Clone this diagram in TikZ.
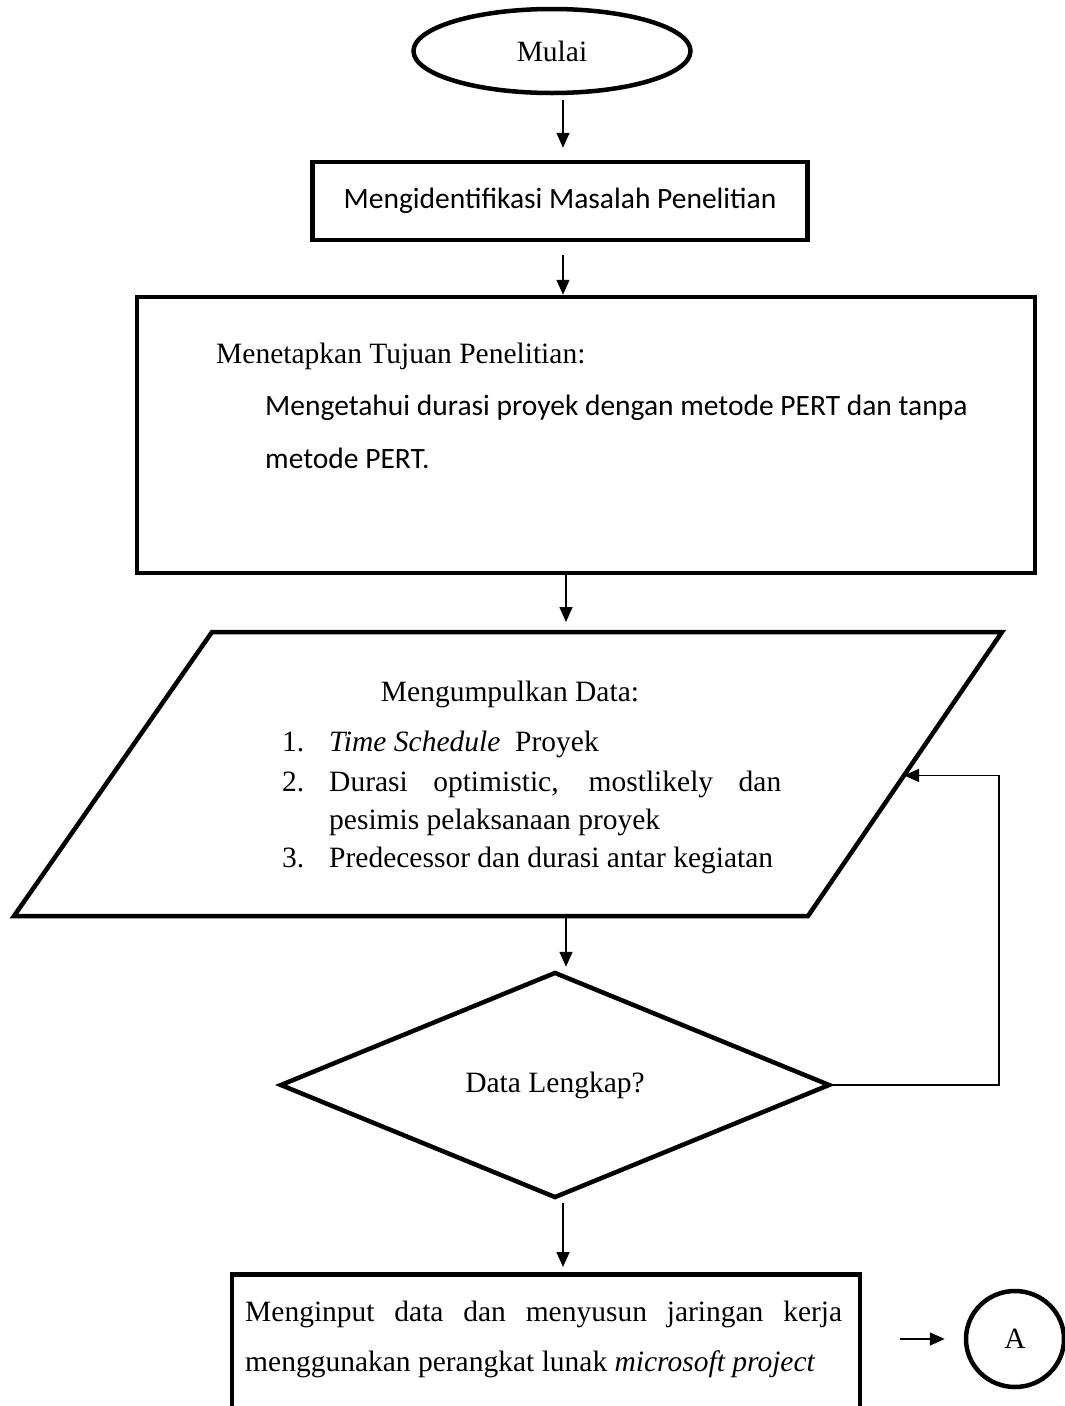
\documentclass[tikz,border=0pt]{standalone}
\usepackage{fontspec}
\setmainfont{Liberation Serif}
\newfontfamily\calibri{Carlito}
\usepackage{tikz}
\usetikzlibrary{shapes.geometric,arrows.meta,calc}
\newcommand{\besar}{\fontsize{29.5}{36}\selectfont}

\begin{document}
\begin{tikzpicture}[x=1pt, y=-1pt,
    garis/.style={draw, line width=4.5pt},
    mulaibox/.style={garis, ellipse, minimum width=277pt, minimum height=84pt, inner sep=0pt},
    prosesbox/.style={garis, rectangle, inner sep=0pt},
    putusanbox/.style={garis, diamond, minimum width=550pt, minimum height=226pt, inner sep=0pt},
    teks/.style={font=\besar, inner sep=0pt},
    alir/.style={line width=1.5pt, -{Triangle[length=15pt,width=13pt]}}]
    \useasboundingbox (0,0) rectangle (1065,1406);

    % Mulai
    \node[mulaibox, font=\besar] (mulai) at (552,51) {Mulai};

    % Identifikasi masalah
    \node[prosesbox, minimum width=495pt, minimum height=78pt, font=\calibri\besar] (identifikasi) at (560,201) {Mengidentifikasi Masalah Penelitian};

    % Tujuan penelitian
    \node[prosesbox, minimum width=898pt, minimum height=276pt] (tujuan) at (586,435) {};
    \node[teks, anchor=base west] (tujuanJudul) at (216,363) {Menetapkan Tujuan Penelitian:};
    \node[teks, anchor=base west, font=\calibri\besar] (tujuanIsiA) at (265,415) {Mengetahui durasi proyek dengan metode PERT dan tanpa};
    \node[teks, anchor=base west, font=\calibri\besar] (tujuanIsiB) at (265,468) {metode PERT.};

    % Pengumpulan data (jajaran genjang)
    \coordinate (pTL) at (212,632);
    \coordinate (pTR) at (1002,632);
    \coordinate (pBR) at (808,916);
    \coordinate (pBL) at (14,916);
    \draw[garis] (pTL) -- (pTR) -- (pBR) -- (pBL) -- cycle;
    \node[teks, anchor=base] (dataJudul) at (510,701) {Mengumpulkan Data:};
    \node[teks, anchor=base west] (noA) at (282,751) {1.};
    \node[teks, anchor=base west] (itemA) at (329,751) {\textit{Time Schedule}\ \ Proyek};
    \node[teks, anchor=base west] (noB) at (282,791) {2.};
    \node[teks, anchor=base west] (itemB) at (329,791) {\makebox[452pt][s]{Durasi optimistic, mostlikely dan}};
    \node[teks, anchor=base west] (itemBB) at (329,829) {pesimis pelaksanaan proyek};
    \node[teks, anchor=base west] (noC) at (282,867) {3.};
    \node[teks, anchor=base west] (itemC) at (329,867) {Predecessor dan durasi antar kegiatan};

    % Keputusan
    \node[putusanbox, font=\besar] (cek) at (555,1085) {Data Lengkap?};

    % Input microsoft project
    \node[prosesbox, minimum width=628pt, minimum height=180pt, anchor=north] (input) at (546,1272) {};
    \node[teks, anchor=base west] (inputA) at (245,1321) {\makebox[597pt][s]{Menginput data dan menyusun jaringan kerja}};
    \node[teks, anchor=base west] (inputB) at (245,1371) {menggunakan perangkat lunak \textit{microsoft project}};

    % Konektor A
    \node[garis, ellipse, minimum width=98pt, minimum height=96pt, inner sep=0pt, font=\besar] (A) at (1015,1339) {A};

    % Arrows
    \coordinate (ax) at (563,0);
    \coordinate (bx) at (566,0);
    \coordinate (balik) at (999,0);
    \coordinate (masuk) at ($(pTR)!0.505!(pBR)$);
    \draw[alir, shorten <=5pt, shorten >=12pt] (mulai.south -| ax) -- (identifikasi.north -| ax);
    \draw[alir, shorten <=13pt] (identifikasi.south -| ax) -- (tujuan.north -| ax);
    \draw[alir, shorten >=10pt] (tujuan.south -| bx) -- (pTL -| bx);
    \draw[alir, shorten <=2pt, shorten >=3pt] (pBL -| bx) -- (cek.north -| bx);
    \draw[alir, shorten <=3pt, shorten >=5pt] (cek.south -| ax) -- (input.north -| ax);
    \draw[alir] (cek.east) -- (cek.east -| balik) |- (masuk);
    \draw[alir, shorten <=38pt, shorten >=19pt] (input.east |- A.west) -- (A.west);
\end{tikzpicture}
\end{document}
